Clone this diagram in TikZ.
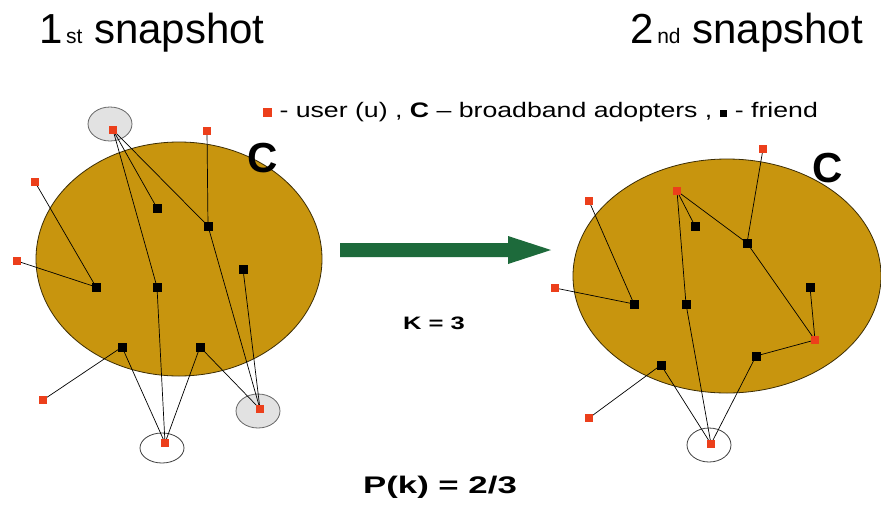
\documentclass[tikz,border=0pt]{standalone}
\usepackage{fontspec}
\setmainfont{Liberation Sans}
\usetikzlibrary{shapes.geometric}
\definecolor{adopt}{HTML}{C8950E}
\definecolor{usr}{HTML}{EC3F1B}
\definecolor{arrowgreen}{HTML}{1D6A3B}
\definecolor{halo}{HTML}{E2E2E2}
\tikzset{
  usernode/.style={fill=usr,minimum size=8pt,inner sep=0pt,outer sep=0pt},
  friendnode/.style={fill=black,minimum size=9pt,inner sep=0pt,outer sep=0pt},
  tie/.style={draw=black,line width=0.7pt},
  group/.style={draw=black!70!adopt,line width=0.8pt,fill=adopt},
  ring/.style={draw=black!75,line width=0.8pt},
  cee/.style={font=\bfseries\fontsize{42}{42}\selectfont,inner sep=0pt},
}
\begin{document}
\begin{tikzpicture}[x=1pt,y=-1pt]
\useasboundingbox (0,0) rectangle (881,509);
\fill[white] (0,0) rectangle (881,509);

% titles
\node[anchor=base west,inner sep=0pt,font=\fontsize{42}{42}\selectfont] (t1) at (39,43) {1{\fontsize{21}{21}\selectfont\,st} snapshot};
\node[anchor=base east,inner sep=0pt,font=\fontsize{42}{42}\selectfont] (t2) at (863,43) {2{\fontsize{21}{21}\selectfont\,nd} snapshot};

% legend
\node[anchor=west,inner sep=0pt,xscale=1.27,font=\fontsize{21}{21}\selectfont] (legend) at (263,112)
  {\textcolor{usr}{\rule{7pt}{9pt}} - user (u) , \textbf{C} -- broadband adopters , \rule{6pt}{7pt} - friend};

% ---------- first snapshot ----------
\node[group,ellipse,minimum width=286pt,minimum height=234pt,inner sep=0pt] (C1) at (179,259) {};
\node[cee] (c1) at (263,158) {C};
\path[draw=black!60,fill=halo,line width=0.8pt] (110,124) ellipse [x radius=22,y radius=17];
\path[draw=black!60,fill=halo,line width=0.8pt] (258,411) ellipse [x radius=22,y radius=17];
\path[ring] (162,448) ellipse [x radius=22,y radius=15];

\node[usernode] (a1) at (113,130) {};
\node[usernode] (a2) at (207,131) {};
\node[usernode] (a3) at (35,182) {};
\node[usernode] (a4) at (17,261) {};
\node[usernode] (a5) at (43,400) {};
\node[usernode] (a6) at (165,443) {};
\node[usernode] (a7) at (260,409) {};

\node[friendnode] (f1) at (157,208) {};
\node[friendnode] (f2) at (208,226) {};
\node[friendnode] (f3) at (243,269) {};
\node[friendnode] (f4) at (96,287) {};
\node[friendnode] (f5) at (157,287) {};
\node[friendnode] (f6) at (122,347) {};
\node[friendnode] (f7) at (200,347) {};

\draw[tie] (a1.center) -- (f1.center);
\draw[tie] (a1.center) -- (f5.center);
\draw[tie] (a1.center) -- (f2.center);
\draw[tie] (a2.center) -- (f2.center);
\draw[tie] (f2.center) -- (a7.center);
\draw[tie] (f3.center) -- (a7.center);
\draw[tie] (f7.center) -- (a7.center);
\draw[tie] (a3.center) -- (f4.center);
\draw[tie] (a4.center) -- (f4.center);
\draw[tie] (a5.center) -- (f6.center);
\draw[tie] (f6.center) -- (a6.center);
\draw[tie] (f5.center) -- (a6.center);
\draw[tie] (f7.center) -- (a6.center);
\foreach \n in {a1,a2,a3,a4,a5,a6,a7} \node[usernode] at (\n) {};
\foreach \n in {f1,f2,f3,f4,f5,f6,f7} \node[friendnode] at (\n) {};

% ---------- transition arrow ----------
\coordinate (s0) at (340,250);
\coordinate (s1) at (551,250);
\fill[arrowgreen] (340,243) -- (508,243) -- (508,236) -- (s1) -- (508,264) -- (508,257) -- (340,257) -- cycle;
\node[xscale=1.42,font=\bfseries\fontsize{18}{18}\selectfont] (k) at (434,323) {K = 3};

% ---------- second snapshot ----------
\node[group,ellipse,minimum width=308pt,minimum height=234pt,inner sep=0pt] (C2) at (727,276) {};
\node[cee] (c2) at (828,168) {C};
\path[ring] (709,445) ellipse [x radius=22,y radius=17];

\node[usernode] (b1) at (763,149) {};
\node[usernode] (b2) at (589,201) {};
\node[usernode] (b3) at (677,191) {};
\node[usernode] (b4) at (555,288) {};
\node[usernode] (b5) at (815,340) {};
\node[usernode] (b6) at (589,418) {};
\node[usernode] (b7) at (711,444) {};

\node[friendnode] (g1) at (695,226) {};
\node[friendnode] (g2) at (747,243) {};
\node[friendnode] (g3) at (810,287) {};
\node[friendnode] (g4) at (634,304) {};
\node[friendnode] (g5) at (686,304) {};
\node[friendnode] (g6) at (661,365) {};
\node[friendnode] (g7) at (756,356) {};

\draw[tie] (b2.center) -- (g4.center);
\draw[tie] (b4.center) -- (g4.center);
\draw[tie] (b3.center) -- (g1.center);
\draw[tie] (b3.center) -- (g2.center);
\draw[tie] (b3.center) -- (g5.center);
\draw[tie] (b1.center) -- (g2.center);
\draw[tie] (g2.center) -- (b5.center);
\draw[tie] (g3.center) -- (b5.center);
\draw[tie] (g7.center) -- (b5.center);
\draw[tie] (b6.center) -- (g6.center);
\draw[tie] (g6.center) -- (b7.center);
\draw[tie] (g5.center) -- (b7.center);
\draw[tie] (g7.center) -- (b7.center);
\foreach \n in {b1,b2,b3,b4,b5,b6,b7} \node[usernode] at (\n) {};
\foreach \n in {g1,g2,g3,g4,g5,g6,g7} \node[friendnode] at (\n) {};

% probability
\node[xscale=1.45,font=\bfseries\fontsize{24}{24}\selectfont] (p) at (440,487) {P(k) = 2/3};
\end{tikzpicture}
\end{document}
